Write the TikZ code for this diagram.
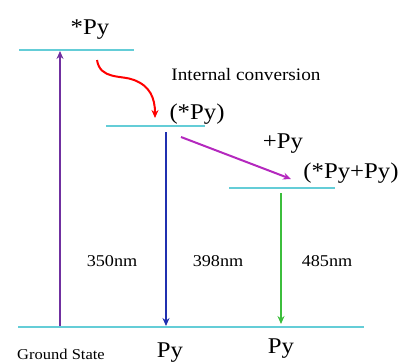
\documentclass[tikz,border=0pt]{standalone}
\usepackage{fontspec}
\setmainfont{Liberation Serif}
\usetikzlibrary{arrows.meta}
\definecolor{lev}{RGB}{100,205,215}
\definecolor{pur}{RGB}{112,48,160}
\definecolor{blu}{RGB}{32,48,176}
\definecolor{grn}{RGB}{60,190,60}
\definecolor{mag}{RGB}{180,40,190}
\begin{document}
\begin{tikzpicture}[x=1pt,y=-1pt,
  level/.style={draw=lev,line width=2.4pt},
  arr/.style={line width=2pt,-{Stealth[length=8pt,width=7pt]}},
  big/.style={font=\fontsize{22.5}{22.5}\selectfont,anchor=base,inner sep=0pt,xscale=1.1,transform shape},
  mid/.style={font=\fontsize{16.5}{16.5}\selectfont,anchor=base,inner sep=0pt,xscale=1.1,transform shape},
  ictext/.style={font=\fontsize{17.5}{17.5}\selectfont,anchor=base,inner sep=0pt,xscale=1.1,transform shape},
  small/.style={font=\fontsize{15}{15}\selectfont,anchor=base,inner sep=0pt,xscale=1.1,transform shape}]
\useasboundingbox (0,0) rectangle (401,361);
% levels
\coordinate (t1) at (19,50); \coordinate (t2) at (134,50);
\coordinate (m1) at (106,126); \coordinate (m2) at (205,126);
\coordinate (e1) at (229,188); \coordinate (e2) at (335,188);
\coordinate (g1) at (18,327); \coordinate (g2) at (364,327);
\draw[level] (t1) -- (t2);
\draw[level] (m1) -- (m2);
\draw[level] (e1) -- (e2);
\draw[level] (g1) -- (g2);
% arrow endpoints
\coordinate (pa) at (60,326); \coordinate (pb) at (60,51);
\coordinate (ba) at (166,132); \coordinate (bb) at (166,326);
\coordinate (ga) at (281,193); \coordinate (gb) at (281,324);
\coordinate (ra) at (97,60); \coordinate (rb) at (155,118);
\coordinate (ma) at (181,137); \coordinate (mb) at (291,179);
\draw[arr,pur] (pa) -- (pb);
\draw[arr,blu] (ba) -- (bb);
\draw[arr,grn] (ga) -- (gb);
\draw[arr,red] (ra) .. controls (100,80) and (122,75) .. (134,80) .. controls (150,86) and (155,98) .. (rb);
\draw[arr,mag] (ma) -- (mb);
% labels
\node[big] (s1) at (90,35) {*Py};
\node[ictext] (ic) at (246,81) {Internal conversion};
\node[big] (s2) at (197,119) {(*Py)};
\node[big] (pp) at (283,148) {+Py};
\node[big] (ex) at (351,178) {(*Py+Py)};
\node[mid] (w1) at (112,266) {350nm};
\node[mid] (w2) at (218,266) {398nm};
\node[mid] (w3) at (327,266) {485nm};
\node[big] (p1) at (170,357) {Py};
\node[big] (p2) at (281,353) {Py};
\node[small] (gs) at (61,359) {Ground State};
\end{tikzpicture}
\end{document}
